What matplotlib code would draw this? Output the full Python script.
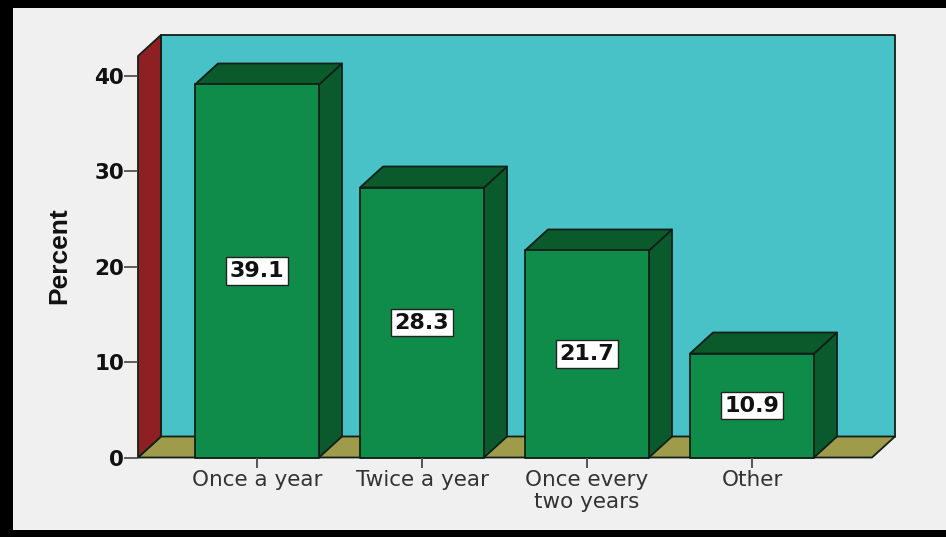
import matplotlib
matplotlib.use('Agg')
from matplotlib import pyplot as plt
from matplotlib.patches import Polygon, Rectangle

categories = ['Once a year', 'Twice a year', 'Once every\ntwo years', 'Other']
percents = [39.1, 28.3, 21.7, 10.9]
yticks = [0, 10, 20, 30, 40]

W, H = 946, 537
WALL = '#48c2c6'
SIDE_WALL = '#8e2024'
FLOOR = '#9e9c4a'
BAR = '#0f8c4a'
BAR_TOP = '#0a5a2c'
BAR_SIDE = '#0a5a2e'
EDGE = '#102018'

fig = plt.figure(figsize=(W / 100, H / 100), dpi=100, facecolor='#f0f0f0')

# black border, there is none on the right
fig.add_artist(Rectangle((0, 0), 13 / W, 1, color='black', lw=0))
fig.add_artist(Rectangle((0, 1 - 8 / H), 1, 8 / H, color='black', lw=0))
fig.add_artist(Rectangle((0, 0), 1, 7 / H, color='black', lw=0))

ax = fig.add_axes([138 / W, (H - 457.5) / H, 734 / W, 401.5 / H])
ax.set_xlim((138 - 257) / 165, (872 - 257) / 165)
ax.set_ylim(0, 401.5 / 9.54)
ax.patch.set_visible(False)
for s in ax.spines.values():
    s.set_visible(False)

xmin, xmax = ax.get_xlim()
ymin, ymax = ax.get_ylim()
dx = 23 / 165
dy = 21 / 9.54
barw = 124 / 165


def box(points, color):
    ax.add_patch(Polygon(points, closed=True, facecolor=color, edgecolor=EDGE, lw=1.3,
                         joinstyle='round', clip_on=False))


# back wall, floor and left wall
box([(xmin + dx, ymin + dy), (xmax + dx, ymin + dy), (xmax + dx, ymax + dy), (xmin + dx, ymax + dy)], WALL)
box([(xmin, ymin), (xmax, ymin), (xmax + dx, ymin + dy), (xmin + dx, ymin + dy)], FLOOR)
box([(xmin, ymin), (xmin + dx, ymin + dy), (xmin + dx, ymax + dy), (xmin, ymax)], SIDE_WALL)

for i, v in enumerate(percents):
    l = i - barw / 2
    r = i + barw / 2
    box([(r, 0), (r + dx, dy), (r + dx, v + dy), (r, v)], BAR_SIDE)
    box([(l, v), (r, v), (r + dx, v + dy), (l + dx, v + dy)], BAR_TOP)
    box([(l, 0), (r, 0), (r, v), (l, v)], BAR)
    ax.text(i, v / 2, '%.1f' % v, ha='center', va='center', fontsize=16, fontweight='bold',
            family='DejaVu Sans', color='#111111',
            bbox=dict(boxstyle='square,pad=0.16', facecolor='white', edgecolor='#222222', lw=1))

ax.set_xticks(range(len(categories)))
ax.set_xticklabels(categories, family='DejaVu Sans', fontsize=15.5, color='#333333', linespacing=1.1)
ax.tick_params(axis='x', length=7, width=1.4, color='#555555', pad=2)
ax.set_yticks(yticks)
ax.set_yticklabels(yticks, family='DejaVu Sans', fontweight='bold', fontsize=15.5, color='#111111')
ax.tick_params(axis='y', length=10, width=1.2, color='#444444', pad=0)

fig.text(59 / W, 1 - 256 / H, 'Percent', rotation=90, ha='center', va='center',
         family='Liberation Sans', fontweight='bold', fontsize=19, color='#111111')

fig.savefig('out.png', dpi=100, facecolor=fig.get_facecolor())
